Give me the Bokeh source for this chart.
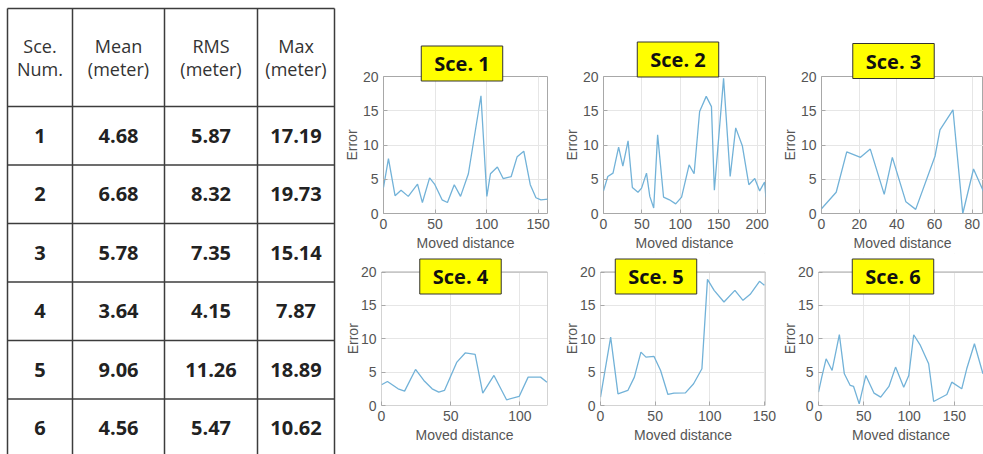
import math
from bokeh.plotting import figure
from bokeh.models import Range1d, Label
from bokeh.layouts import row, column
from bokeh.embed import file_html
from bokeh.resources import INLINE
from bokeh.core.properties import value

# ---------------- data ----------------
header_line1 = ["Sce.", "Mean", "RMS", "Max"]
header_line2 = ["Num.", "(meter)", "(meter)", "(meter)"]
sce_num = ["1", "2", "3", "4", "5", "6"]
mean_m = ["4.68", "6.68", "5.78", "3.64", "9.06", "4.56"]
rms_m = ["5.87", "8.32", "7.35", "4.15", "11.26", "5.47"]
max_m = ["17.19", "19.73", "15.14", "7.87", "18.89", "10.62"]

titles = ["Sce. 1", "Sce. 2", "Sce. 3", "Sce. 4", "Sce. 5", "Sce. 6"]
y_ticks = [0, 5, 10, 15, 20]
y_max = 20

s1_x = [0, 4.8, 11.2, 17, 24, 33, 37.7, 44.7, 49.5, 56.8, 62, 68.6, 74.7, 82.3, 94.5,
        100.2, 103.7, 110.4, 116, 123.8, 129.6, 136, 142.3, 147.8, 152.6, 159.6]
s1_y = [3.8, 8.0, 2.6, 3.4, 2.5, 4.3, 1.6, 5.2, 4.3, 2.0, 1.6, 4.2, 2.5, 5.8, 17.19,
        2.5, 5.8, 6.8, 5.1, 5.4, 8.3, 9.1, 4.2, 2.3, 2.0, 2.1]
s1_xmax = 159
s1_ticks = [0, 50, 100, 150]

s2_x = [0, 5.6, 12.4, 19.7, 25.2, 32, 37.6, 44.9, 49.6, 56, 60.3, 65.4, 70.5, 78.2, 85.9,
        94, 101.7, 111.5, 118, 125.2, 133.8, 140.6, 144.4, 156.4, 165, 172.2, 180.8,
        189.3, 197, 203.4, 209.8, 211.5]
s2_y = [3.3, 5.4, 5.9, 9.7, 6.9, 10.6, 3.8, 3.1, 3.7, 5.9, 2.5, 0.8, 11.5, 2.4, 2.0,
        1.4, 2.4, 7.1, 5.8, 14.9, 17.1, 15.6, 3.4, 19.73, 5.4, 12.5, 9.9,
        4.2, 5.1, 3.3, 4.6, 2.4]
s2_xmax = 211
s2_ticks = [0, 50, 100, 150, 200]

s3_x = [0, 7.8, 13.4, 20.7, 25.9, 33.3, 37.6, 44.8, 50, 60.3, 62.9, 69.8, 75, 80.7, 86]
s3_y = [0.7, 3.1, 9.0, 8.2, 9.4, 2.8, 8.2, 1.7, 0.6, 8.4, 12.2, 15.14, 0.0, 6.5, 3.2]
s3_xmax = 86
s3_ticks = [0, 20, 40, 60, 80]

s4_x = [0, 4.3, 12, 16.7, 24.6, 30.6, 36.6, 41.4, 45.5, 54.5, 60.5, 67.7, 73.2, 81.3,
        90.4, 99.5, 106, 115, 119.6]
s4_y = [3.1, 3.6, 2.5, 2.15, 5.4, 3.75, 2.5, 2.0, 2.25, 6.5, 7.87, 7.65, 1.85, 4.5,
        0.85, 1.35, 4.25, 4.25, 3.5]
s4_xmax = 120
s4_ticks = [0, 50, 100]

s5_x = [0, 9.3, 16, 25, 31, 37, 41.6, 49, 55, 61.7, 67.2, 77.7, 85.2, 92.8, 97.9, 104,
        113, 123, 130.4, 137, 145.5, 150]
s5_y = [1.25, 10.25, 1.75, 2.25, 4.25, 8.0, 7.25, 7.35, 5.25, 1.65, 1.85, 1.9, 3.25,
        5.5, 18.89, 17.25, 15.5, 17.25, 15.75, 16.65, 18.6, 18.0]
s5_xmax = 151
s5_ticks = [0, 50, 100, 150]

s6_x = [0, 3.6, 8.4, 15, 23, 28.5, 35, 38.7, 44.9, 52.2, 61.3, 68.6, 77.7, 85, 94, 99.6,
        105, 112.4, 121.5, 127, 141.6, 147, 158, 163.5, 172, 181.4]
s6_y = [2.0, 4.25, 7.0, 5.25, 10.62, 4.75, 3.0, 2.85, 0.25, 4.5, 1.85, 1.25, 2.85, 5.75,
        2.75, 4.5, 10.6, 9.0, 6.25, 0.6, 1.65, 3.5, 2.5, 5.5, 9.25, 4.75]
s6_xmax = 182
s6_ticks = [0, 50, 100, 150]

# ---------------- styles ----------------
LINE_COLOR = "#72b2d8"
TEXT_GRAY = "#555555"
BOX_GRAY = "#a8a8a8"
GRID_GRAY = "#e6e6e6"
PLOT_FONT = "Liberation Sans"
TABLE_FONT = "Open Sans"

# ---------------- table ----------------
TW, TH = 340, 454
col_edges = [7, 72, 164, 257, 334]
table_top = 8
header_h = 98
row_h = 58.5
row_edges = [table_top, table_top + header_h] + [table_top + header_h + row_h * (i + 1) for i in range(len(sce_num))]

tab = figure(width=TW, height=TH, x_range=Range1d(0, TW), y_range=Range1d(TH, 0),
             output_backend="svg", toolbar_location=None, min_border=0)
tab.axis.visible = False
tab.grid.visible = False
tab.outline_line_color = None

tab.segment(x0=col_edges, y0=[row_edges[0]] * len(col_edges), x1=col_edges,
            y1=[row_edges[-1]] * len(col_edges), line_color="#3c3c3c", line_width=1.5)
tab.segment(x0=[col_edges[0]] * len(row_edges), y0=row_edges, x1=[col_edges[-1]] * len(row_edges),
            y1=row_edges, line_color="#3c3c3c", line_width=1.5)

col_centers = [(col_edges[i] + col_edges[i + 1]) / 2 for i in range(4)]
hy = row_edges[0] + header_h / 2
tab.text(x=col_centers, y=[hy - 11.5] * 4, text=header_line1, text_align="center",
         text_baseline="middle", text_font=value(TABLE_FONT), text_font_size="18px",
         text_color="#333333")
tab.text(x=col_centers, y=[hy + 11.5] * 4, text=header_line2, text_align="center",
         text_baseline="middle", text_font=value(TABLE_FONT), text_font_size="18px",
         text_color="#333333")

bx, by, bt = [], [], []
for i, vals in enumerate(zip(sce_num, mean_m, rms_m, max_m)):
    cy = (row_edges[i + 1] + row_edges[i + 2]) / 2
    for j, v in enumerate(vals):
        bx.append(col_centers[j])
        by.append(cy)
        bt.append(v)
tab.text(x=bx, y=by, text=bt, text_align="center", text_baseline="middle",
         text_font=value(TABLE_FONT), text_font_size="20px", text_font_style="bold",
         text_color="#222222")


# ---------------- plots ----------------
def make_plot(xs, ys, xmax, xticks, title, w, h, mbl, mbr, mbt, mbb, xoff, yoff, box_top_px):
    """box_top_px: pixels from the canvas top to the y=20 line of the axes box."""
    frame_h = h - mbt - mbb
    extended = box_top_px > mbt
    if extended:
        # frame reaches above the axes box so that the title box can overlap it
        ytop = y_max * frame_h / (mbt + frame_h - box_top_px)
    else:
        ytop = y_max
    p = figure(width=w, height=h, x_range=Range1d(0, xmax), y_range=Range1d(0, ytop),
               output_backend="svg", toolbar_location=None,
               min_border_left=mbl, min_border_right=mbr,
               min_border_top=mbt, min_border_bottom=mbb)
    p.grid.grid_line_color = GRID_GRAY
    p.grid.grid_line_width = 1
    if extended:
        p.outline_line_color = None
        p.quad(left=[0], right=[xmax], bottom=[y_max], top=[ytop],
               fill_color="white", line_color=None)
    else:
        p.outline_line_color = BOX_GRAY
    p.line(xs, ys, line_color=LINE_COLOR, line_width=1.3)
    if extended:
        p.quad(left=[0], right=[xmax], bottom=[0], top=[y_max],
               fill_color=None, line_color=BOX_GRAY, line_width=1)
    p.xaxis.ticker = xticks
    p.yaxis.ticker = y_ticks
    p.yaxis.bounds = (0, y_max)
    p.xaxis.axis_label = "Moved distance"
    for ax in (p.xaxis[0], p.yaxis[0]):
        ax.axis_line_color = None
        ax.major_tick_in = 4
        ax.major_tick_out = 0
        ax.major_tick_line_color = BOX_GRAY
        ax.minor_tick_line_color = None
        ax.major_label_text_font = PLOT_FONT
        ax.major_label_text_font_size = "14px"
        ax.major_label_text_color = TEXT_GRAY
        ax.axis_label_text_font = PLOT_FONT
        ax.axis_label_text_font_size = "14px"
        ax.axis_label_text_font_style = "normal"
        ax.axis_label_text_color = TEXT_GRAY
        ax.major_label_standoff = 5
    p.xaxis.axis_label_standoff = 3
    p.yaxis.axis_label_standoff = 0
    if extended:
        # y label centred on the 0..20 axes box rather than on the taller frame
        ylab = Label(x=0, y=y_max / 2, x_offset=-28.5, y_offset=0, text="Error",
                     angle=math.pi / 2, text_align="center", text_baseline="middle",
                     text_font=PLOT_FONT, text_font_size="14px", text_color=TEXT_GRAY)
        p.add_layout(ylab, "left")
    else:
        p.yaxis.axis_label = "Error"
    lab = Label(x=xmax / 2, y=y_max, x_offset=xoff, y_offset=yoff, text=title,
                text_align="center", text_baseline="middle",
                text_font=TABLE_FONT, text_font_size="20px", text_font_style="bold",
                text_color="#111111", background_fill_color="#ffff00",
                border_line_color="#333333", border_line_width=1, padding=(13, 4))
    if extended:
        p.add_layout(lab)
    else:
        p.add_layout(lab, "above")
    return p


H1, H2 = 253, 201
f1 = make_plot(s1_x, s1_y, s1_xmax, s1_ticks, titles[0], 220, H1, 41, 13, 76, 40, -3.5, 13, 76)
f2 = make_plot(s2_x, s2_y, s2_xmax, s2_ticks, titles[1], 218, H1, 39, 13, 76, 40, -6.5, 17, 76)
f3 = make_plot(s3_x, s3_y, s3_xmax, s3_ticks, titles[2], 205, H1, 39, 0, 76, 40, -9, 15.5, 76)
f4 = make_plot(s4_x, s4_y, s4_xmax, s4_ticks, titles[3], 220, H2, 41, 13, 0, 49, -4, -4.5, 18.5)
f5 = make_plot(s5_x, s5_y, s5_xmax, s5_ticks, titles[4], 218, H2, 39, 13, 0, 49, -27, -4.5, 18.5)
f6 = make_plot(s6_x, s6_y, s6_xmax, s6_ticks, titles[5], 205, H2, 39, 0, 0, 49, -8, -4.5, 18.5)

grid = column(row(f1, f2, f3), row(f4, f5, f6))
layout = row(tab, grid)

open("out.html", "w").write(file_html(layout, INLINE))
